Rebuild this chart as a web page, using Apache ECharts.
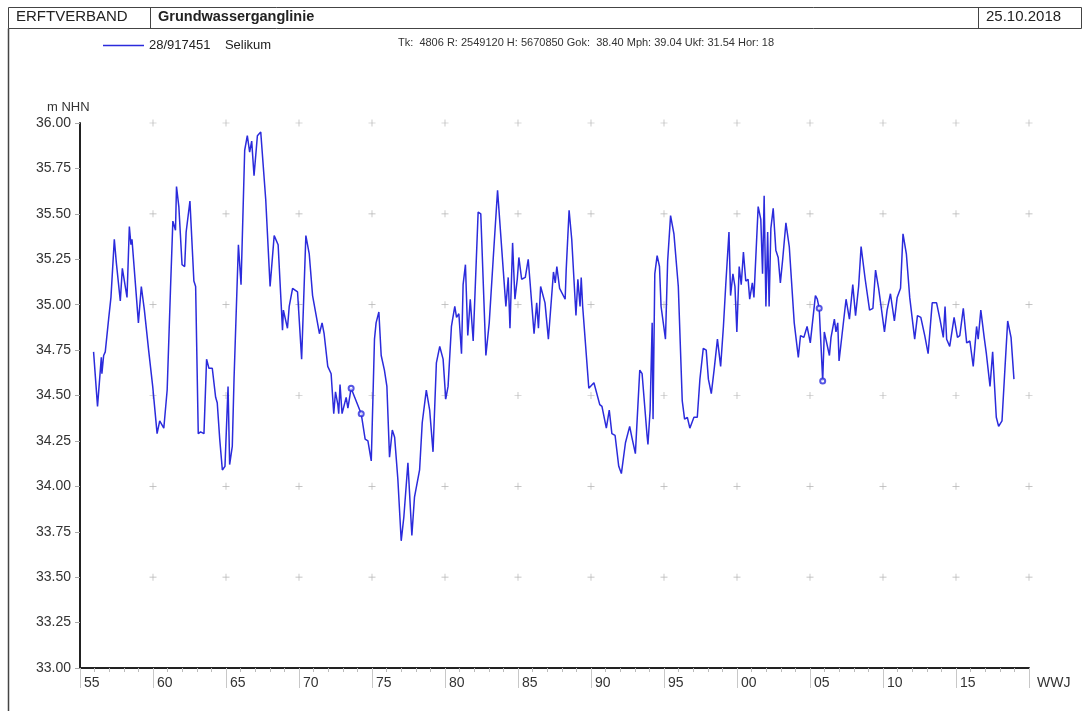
<!DOCTYPE html>
<html>
<head>
<meta charset="utf-8">
<script src="https://cdn.jsdelivr.net/npm/echarts@6/dist/echarts.min.js"></script>
<style>
html,body{margin:0;padding:0;background:#fff;}
#chart{width:1090px;height:711px;}
</style>
</head>
<body>
<div id="chart"></div>
<script>
// ---- data (decimal water-management year, groundwater level m NHN) ----
const years = [
1955.93,1956.20,1956.46,1956.50,1956.62,1956.73,1956.96,1957.12,1957.35,1957.49,1957.76,1957.90,1958.22,1958.38,1958.49,1958.56,
1959.00,1959.20,1959.41,1959.70,1959.98,1960.28,1960.46,1960.74,1960.97,1961.20,1961.36,1961.54,1961.61,1961.77,1961.99,1962.17,
1962.27,1962.53,1962.80,1962.92,1963.10,1963.26,1963.49,1963.67,1963.83,1964.06,1964.29,1964.40,1964.57,1964.75,1964.93,1965.14,
1965.25,1965.43,1965.55,1965.85,1966.03,1966.28,1966.46,1966.62,1966.76,1966.92,1967.15,1967.38,1967.72,1968.02,1968.30,1968.57,
1968.87,1968.93,1969.21,1969.33,1969.56,1969.90,1970.18,1970.47,1970.70,1970.93,1971.40,1971.58,1971.72,1971.97,1972.20,1972.38,
1972.50,1972.66,1972.72,1972.81,1972.95,1973.23,1973.35,1973.57,1974.26,1974.53,1974.72,1974.95,1975.17,1975.28,1975.47,1975.63,
1975.85,1976.02,1976.20,1976.39,1976.55,1976.77,1977.00,1977.18,1977.46,1977.73,1977.91,1978.26,1978.44,1978.72,1978.95,1979.18,
1979.41,1979.64,1979.87,1980.05,1980.21,1980.44,1980.67,1980.79,1980.95,1981.13,1981.24,1981.40,1981.56,1981.73,1981.93,1982.27,
1982.45,1982.80,1983.03,1983.30,1983.60,1983.99,1984.17,1984.33,1984.45,1984.63,1984.79,1984.95,1985.06,1985.25,1985.50,1985.70,
1985.81,1986.10,1986.28,1986.40,1986.55,1986.85,1987.08,1987.43,1987.55,1987.66,1987.85,1988.23,1988.30,1988.50,1988.68,1988.97,
1989.10,1989.25,1989.33,1989.43,1989.85,1989.97,1990.20,1990.60,1990.75,1991.05,1991.25,1991.43,1991.65,1991.90,1992.08,1992.36,
1992.65,1992.80,1993.04,1993.34,1993.50,1993.84,1993.90,1994.05,1994.19,1994.25,1994.37,1994.53,1994.69,1994.80,1995.10,1995.25,
1995.45,1995.68,1995.98,1996.25,1996.41,1996.60,1996.77,1997.05,1997.28,1997.46,1997.69,1997.89,1998.04,1998.24,1998.43,1998.66,
1998.88,1999.07,1999.23,1999.45,1999.56,1999.72,1999.86,1999.99,2000.15,2000.29,2000.44,2000.60,2000.76,2000.87,2001.05,2001.16,
2001.23,2001.45,2001.63,2001.75,2001.86,2001.98,2002.10,2002.20,2002.32,2002.48,2002.66,2002.82,2002.97,2003.13,2003.35,2003.58,
2003.92,2004.20,2004.35,2004.58,2004.80,2005.02,2005.37,2005.50,2005.63,2005.87,2005.98,2006.33,2006.44,2006.67,2006.78,2006.90,
2006.99,2007.47,2007.70,2007.93,2008.12,2008.33,2008.50,2008.78,2009.08,2009.31,2009.49,2009.70,2009.87,2010.10,2010.28,2010.51,
2010.78,2010.97,2011.20,2011.37,2011.60,2011.83,2012.17,2012.36,2012.59,2012.86,2013.09,2013.37,2013.67,2013.90,2014.13,2014.25,
2014.36,2014.57,2014.87,2015.10,2015.26,2015.50,2015.73,2015.95,2016.18,2016.41,2016.52,2016.70,2016.93,2017.08,2017.33,2017.51,
2017.76,2017.92,2018.15,2018.36,2018.54,2018.77,2018.97
];
const levels = [
34.74,34.44,34.71,34.62,34.72,34.74,34.92,35.04,35.36,35.23,35.02,35.20,35.04,35.43,35.33,35.36,
34.90,35.10,34.97,34.75,34.55,34.29,34.36,34.32,34.53,35.09,35.46,35.41,35.65,35.54,35.22,35.21,
35.40,35.57,35.13,35.10,34.29,34.30,34.29,34.70,34.65,34.65,34.49,34.46,34.26,34.09,34.11,34.55,
34.12,34.22,34.59,35.33,35.11,35.85,35.93,35.84,35.90,35.71,35.93,35.95,35.58,35.10,35.38,35.33,
34.86,34.97,34.87,34.99,35.09,35.07,34.70,35.38,35.28,35.05,34.84,34.90,34.84,34.66,34.62,34.40,
34.52,34.45,34.40,34.56,34.40,34.49,34.43,34.54,34.40,34.26,34.25,34.14,34.81,34.90,34.96,34.72,
34.64,34.55,34.16,34.31,34.27,34.04,33.70,33.83,34.13,33.73,33.94,34.09,34.35,34.53,34.42,34.19,
34.68,34.77,34.70,34.48,34.55,34.88,34.99,34.93,34.95,34.73,35.11,35.22,34.83,35.03,34.80,35.51,
35.50,34.72,34.90,35.25,35.63,35.19,34.99,35.15,34.87,35.34,35.03,35.14,35.26,35.14,35.15,35.25,
35.14,34.84,35.01,34.87,35.10,35.01,34.81,35.18,35.12,35.21,35.09,35.03,35.19,35.52,35.36,34.94,
35.14,34.99,35.15,34.99,34.54,34.54,34.57,34.45,34.44,34.32,34.42,34.29,34.28,34.11,34.07,34.24,
34.33,34.27,34.18,34.64,34.62,34.28,34.23,34.42,34.90,34.37,35.17,35.27,35.21,34.99,34.81,35.24,
35.49,35.39,35.10,34.47,34.37,34.38,34.32,34.38,34.38,34.59,34.76,34.75,34.59,34.51,34.64,34.81,
34.66,34.88,35.11,35.40,35.05,35.17,35.10,34.85,35.21,35.11,35.29,35.13,35.14,35.03,35.12,35.04,
35.16,35.54,35.47,35.17,35.60,34.99,35.40,34.99,35.42,35.53,35.30,35.26,35.12,35.25,35.45,35.32,
34.90,34.71,34.83,34.82,34.88,34.79,35.05,35.03,34.98,34.58,34.85,34.72,34.82,34.92,34.85,34.90,
34.69,35.03,34.92,35.11,34.94,35.10,35.32,35.14,34.97,34.98,35.19,35.09,34.99,34.85,34.97,35.06,
34.91,35.04,35.09,35.39,35.28,35.04,34.81,34.94,34.93,34.83,34.73,35.01,35.01,34.92,34.82,34.99,
34.81,34.77,34.93,34.82,34.83,34.98,34.79,34.80,34.66,34.88,34.81,34.97,34.82,34.73,34.55,34.74,
34.38,34.33,34.36,34.66,34.91,34.82,34.59
];
// points drawn with a small circle marker (indices into the arrays above)
const markedIdx = [87, 88, 248, 249];
const yTicks = { min: 33, max: 36, step: 0.25 };
const xTicks = { min: 1955, max: 2020, step: 5 };
const crossXs = [1960,1965,1970,1975,1980,1985,1990,1995,2000,2005,2010,2015,2020];
const crossYs = [33.5,34.0,34.5,35.0,35.5,36.0];
const seriesName = '28/917451    Selikum';
const infoText = 'Tk:  4806 R: 2549120 H: 5670850 Gok:  38.40 Mph: 39.04 Ukf: 31.54 Hor: 18';

const FONT = 'Liberation Sans, Arial, sans-serif';
const BLUE = '#2b2bdc';

const lineData = years.map((y, i) => [y, levels[i]]);
const markData = markedIdx.map(i => [years[i], levels[i]]);
const crossData = [];
crossXs.forEach(x => crossYs.forEach(y => crossData.push([x, y])));

const chart = echarts.init(document.getElementById('chart'), null, {renderer: 'canvas'});
chart.setOption({
  animation: false,
  backgroundColor: '#fff',
  textStyle: {fontFamily: FONT},
  grid: {left: 80, right: 61, top: 123, bottom: 43, containLabel: false},
  legend: {
    left: 98, top: 34,
    icon: 'rect', itemWidth: 41, itemHeight: 1.5, itemGap: 10,
    data: [seriesName],
    textStyle: {fontFamily: FONT, fontSize: 13, color: '#222'},
    selectedMode: false
  },
  xAxis: {
    type: 'value', min: xTicks.min, max: xTicks.max, interval: xTicks.step,
    axisLine: {show: true, onZero: false, lineStyle: {color: '#222', width: 2}},
    axisTick: {show: true, length: 20, lineStyle: {color: '#c8c8c8', width: 1}},
    minorTick: {show: true, splitNumber: 5, length: 4, lineStyle: {color: '#bbb'}},
    splitLine: {show: false},
    axisLabel: {
      margin: 8, align: 'left', padding: [0, 0, 0, 4],
      fontFamily: FONT, fontSize: 14, color: '#333',
      formatter: v => v >= xTicks.max ? '' : String(Math.round(v) % 100).padStart(2, '0')
    }
  },
  yAxis: {
    type: 'value', min: yTicks.min, max: yTicks.max, interval: yTicks.step,
    axisLine: {show: true, onZero: false, lineStyle: {color: '#222', width: 2}},
    axisTick: {show: true, length: 5, lineStyle: {color: '#aaa'}},
    splitLine: {show: false},
    axisLabel: {margin: 9, fontFamily: FONT, fontSize: 14, color: '#333',
      formatter: v => v.toFixed(2)}
  },
  graphic: [
    {type: 'rect', shape: {x: 8.5, y: 7.5, width: 1073, height: 21}, style: {fill: 'none', stroke: '#444', lineWidth: 1}},
    {type: 'line', shape: {x1: 150.5, y1: 7.5, x2: 150.5, y2: 28.5}, style: {stroke: '#444', lineWidth: 1}},
    {type: 'line', shape: {x1: 978.5, y1: 7.5, x2: 978.5, y2: 28.5}, style: {stroke: '#444', lineWidth: 1}},
    {type: 'line', shape: {x1: 8.5, y1: 28.5, x2: 8.5, y2: 711}, style: {stroke: '#444', lineWidth: 1.5}},
    {type: 'text', left: 16, top: 9, style: {text: 'ERFTVERBAND', font: '15px ' + FONT, fill: '#222'}},
    {type: 'text', left: 158, top: 9, style: {text: 'Grundwasserganglinie', font: 'bold 14.5px ' + FONT, fill: '#222'}},
    {type: 'text', left: 986, top: 9, style: {text: '25.10.2018', font: '15px ' + FONT, fill: '#222'}},
    {type: 'text', left: 398, top: 37, style: {text: infoText, font: '11px ' + FONT, fill: '#333'}},
    {type: 'text', left: 47, top: 101, style: {text: 'm NHN', font: '13px ' + FONT, fill: '#333'}},
    {type: 'text', left: 1037, top: 676, style: {text: 'WWJ', font: '14px ' + FONT, fill: '#333'}}
  ],
  series: [
    {
      type: 'scatter', silent: true, z: 1,
      symbol: 'path://M0,4.5h10v1h-10z M4.5,0h1v10h-1z', symbolSize: 7,
      itemStyle: {color: '#a0a0a0'},
      data: crossData
    },
    {
      name: seriesName, type: 'line', z: 3,
      showSymbol: false, smooth: false,
      lineStyle: {color: BLUE, width: 1.5},
      itemStyle: {color: BLUE},
      data: lineData
    },
    {
      type: 'scatter', silent: true, z: 4,
      symbol: 'emptyCircle', symbolSize: 5,
      itemStyle: {color: BLUE, borderColor: BLUE, borderWidth: 1},
      data: markData
    }
  ]
});
</script>
</body>
</html>
